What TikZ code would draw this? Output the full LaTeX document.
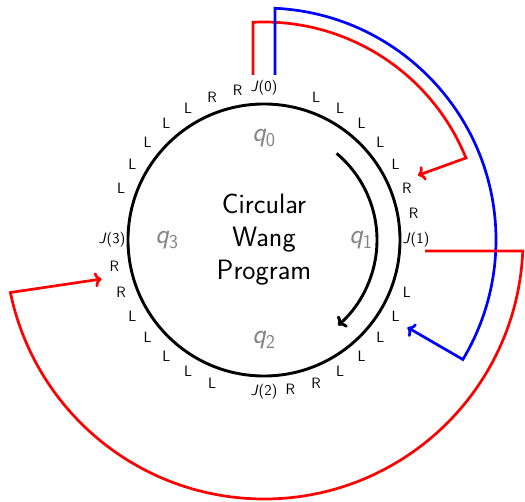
\documentclass[tikz,border=0pt]{standalone}
\usepackage{fontspec}
\usetikzlibrary{arrows.meta,calc}
\begin{document}
\begin{tikzpicture}[x=1pt,y=1pt]
\tikzset{
  lab/.style={font=\fontsize{15}{15}\selectfont\sffamily, inner sep=1pt},
  st/.style={font=\fontsize{28}{28}\selectfont\sffamily\itshape, text=black!48},
  ring/.style={line width=2.9pt},
  link/.style={line width=2.7pt, -{To[length=7pt,width=15pt]}},
}
\useasboundingbox (-264pt,-261pt) rectangle (261pt,240pt);
\node[circle, draw, ring, minimum size=272pt, inner sep=0pt, align=center,
      font=\fontsize{28}{33}\selectfont\sffamily] (prog) at (0,0) {Circular\\Wang\\Program};
\node[st] (q0) at (90:102pt) {q\textsubscript{\upshape 0}};
\node[st] (q1) at (0:97pt) {q\textsubscript{\upshape 1}};
\node[st] (q2) at (-90:100pt) {q\textsubscript{\upshape 2}};
\node[st] (q3) at (180:97pt) {q\textsubscript{\upshape 3}};
\foreach \k in {0,1,2,3} {
  \pgfmathsetmacro\b{90-90*\k}
  \node[lab] (j\k) at (\b:152pt) {\textit{J}(\k)};
  \foreach \i in {1,...,5} { \node[lab] (l\k\i) at ({\b-10-10*\i}:152pt) {L}; }
  \foreach \i in {1,2} { \node[lab] (r\k\i) at ({\b-60-10*\i}:152pt) {R}; }
}
% inner cycle arrow
\coordinate (c0) at (50:113pt);
\draw[ring, -{To[length=7pt,width=15pt]}] (c0) arc[start angle=50, end angle=-49, radius=113pt];
% red link J(0) -> R
\coordinate (a0) at (-11pt,165pt);
\coordinate (a1) at (22.8:167pt);
\draw[link, red] (a0) -- (92.9:218pt) arc[start angle=92.9, end angle=22.1, radius=218pt] -- (a1);
% blue link J(0) -> L
\coordinate (b0) at (11pt,165pt);
\coordinate (b1) at (-31.35:168pt);
\draw[link, blue] (b0) -- (87.3:232pt) arc[start angle=87.3, end angle=-31, radius=232pt] -- (b1);
% red link J(1) -> R
\coordinate (d0) at (161pt,-11pt);
\coordinate (d1) at (193.5:167pt);
\draw[link, red] (d0) -- (-2.43:259pt) arc[start angle=-2.43, end angle=-168.3, radius=259pt] -- (d1);
\end{tikzpicture}
\end{document}
